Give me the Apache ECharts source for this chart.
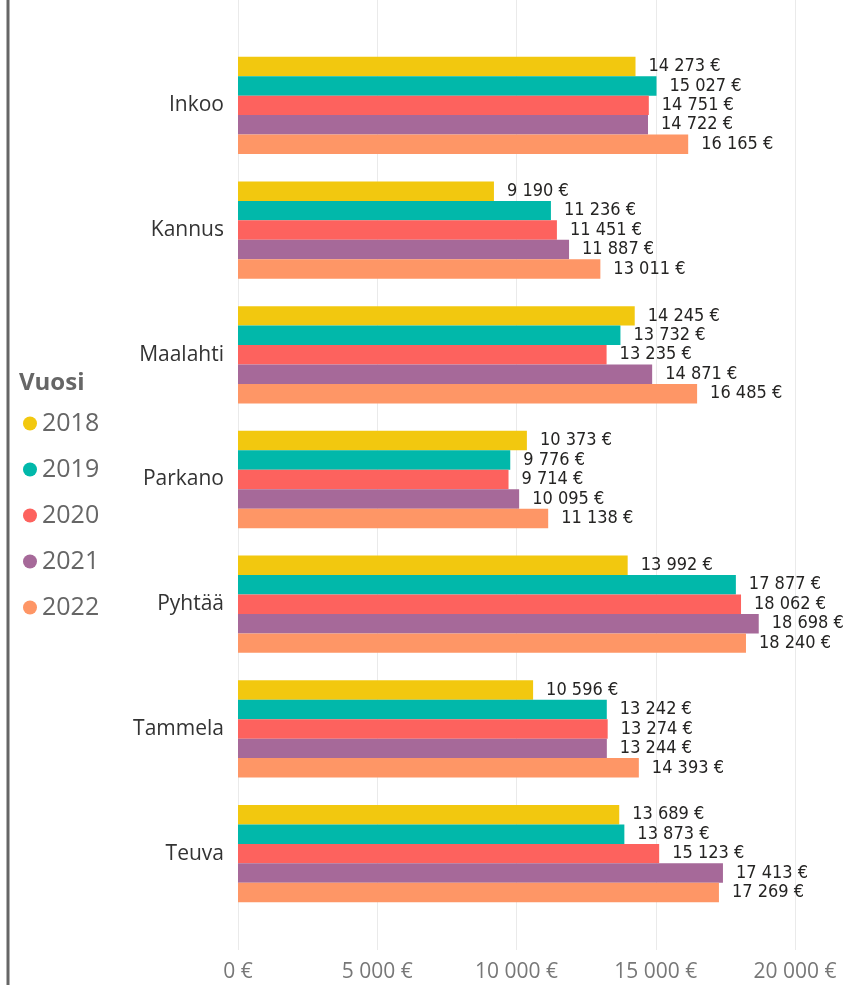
<!DOCTYPE html>
<html>
<head>
<meta charset="utf-8">
<script src="https://cdn.jsdelivr.net/npm/echarts@6/dist/echarts.min.js"></script>
<style>
  html, body { margin: 0; padding: 0; background: #fff; }
  #myChart { width: 843px; height: 985px; }
</style>
</head>
<body>
<div id="myChart"></div>
<script>
var kunnat = ['Inkoo', 'Kannus', 'Maalahti', 'Parkano', 'Pyhtää', 'Tammela', 'Teuva'];
var vuodet = ['2018', '2019', '2020', '2021', '2022'];
var v2018 = [14273, 9190, 14245, 10373, 13992, 10596, 13689];
var v2019 = [15027, 11236, 13732, 9776, 17877, 13242, 13873];
var v2020 = [14751, 11451, 13235, 9714, 18062, 13274, 15123];
var v2021 = [14722, 11887, 14871, 10095, 18698, 13244, 17413];
var v2022 = [16165, 13011, 16485, 11138, 18240, 14393, 17269];
var xTicks = [0, 5000, 10000, 15000, 20000];

var colors = ['#F2C80F', '#01B8AA', '#FD625E', '#A66999', '#FE9666'];
var arvot = [v2018, v2019, v2020, v2021, v2022];

function euro(v) {
  return String(Math.round(v)).replace(/\B(?=(\d{3})+(?!\d))/g, ' ') + ' €';
}

var chart = echarts.init(document.getElementById('myChart'));

var series = vuodet.map(function (vuosi, i) {
  return {
    name: vuosi,
    type: 'bar',
    xAxisIndex: 0,
    yAxisIndex: 0,
    data: arvot[i],
    barGap: '0%',
    barCategoryGap: '22%',
    itemStyle: { color: colors[i] },
    label: {
      show: true,
      position: 'right',
      distance: 13,
      formatter: function (p) { return euro(p.value); },
      color: '#252423',
      fontFamily: '"DejaVu Sans Condensed", "DejaVu Sans"',
      fontSize: 18
    }
  };
});

chart.setOption({
  animation: false,
  color: colors,
  grid: [
    { left: 238, right: 48, top: 43, bottom: 69 },
    { left: 238, right: 48, top: 0, bottom: 35 }
  ],
  legend: {
    orient: 'vertical',
    left: 23,
    top: 411,
    padding: 0,
    data: vuodet,
    icon: 'circle',
    itemWidth: 14,
    itemHeight: 14,
    itemGap: 21,
    textStyle: {
      color: '#666',
      fontSize: 25,
      lineHeight: 25,
      fontFamily: '"Open Sans", "Noto Sans"'
    }
  },
  graphic: [
    {
      type: 'line',
      shape: { x1: 8, y1: 0, x2: 8, y2: 985 },
      style: { stroke: '#666', lineWidth: 3 }
    },
    {
      type: 'text',
      left: 19,
      top: 371,
      style: {
        text: 'Vuosi',
        fill: '#666',
        fontSize: 24,
        fontWeight: 'bold',
        fontFamily: '"Open Sans", "Noto Sans"'
      }
    }
  ],
  xAxis: [
    {
      gridIndex: 0,
      type: 'value',
      min: 0,
      max: 20000,
      interval: 5000,
      show: false
    },
    {
      gridIndex: 1,
      type: 'value',
      min: xTicks[0],
      max: xTicks[xTicks.length - 1],
      interval: 5000,
      axisLine: { show: false },
      axisTick: { show: false },
      splitLine: { show: true, lineStyle: { color: '#eaeaea', width: 1 } },
      axisLabel: {
        margin: 12,
        color: '#777',
        fontSize: 21,
        fontFamily: '"Open Sans", "Noto Sans"',
        formatter: function (v) { return euro(v); }
      }
    }
  ],
  yAxis: [
    {
      gridIndex: 0,
      type: 'category',
      data: kunnat,
      inverse: true,
      axisLine: { show: false },
      axisTick: { show: false },
      axisLabel: {
        margin: 14,
        color: '#333',
        fontSize: 21,
        fontFamily: '"Open Sans", "Noto Sans"'
      }
    },
    {
      gridIndex: 1,
      type: 'value',
      show: false
    }
  ],
  series: series
});
</script>
</body>
</html>
